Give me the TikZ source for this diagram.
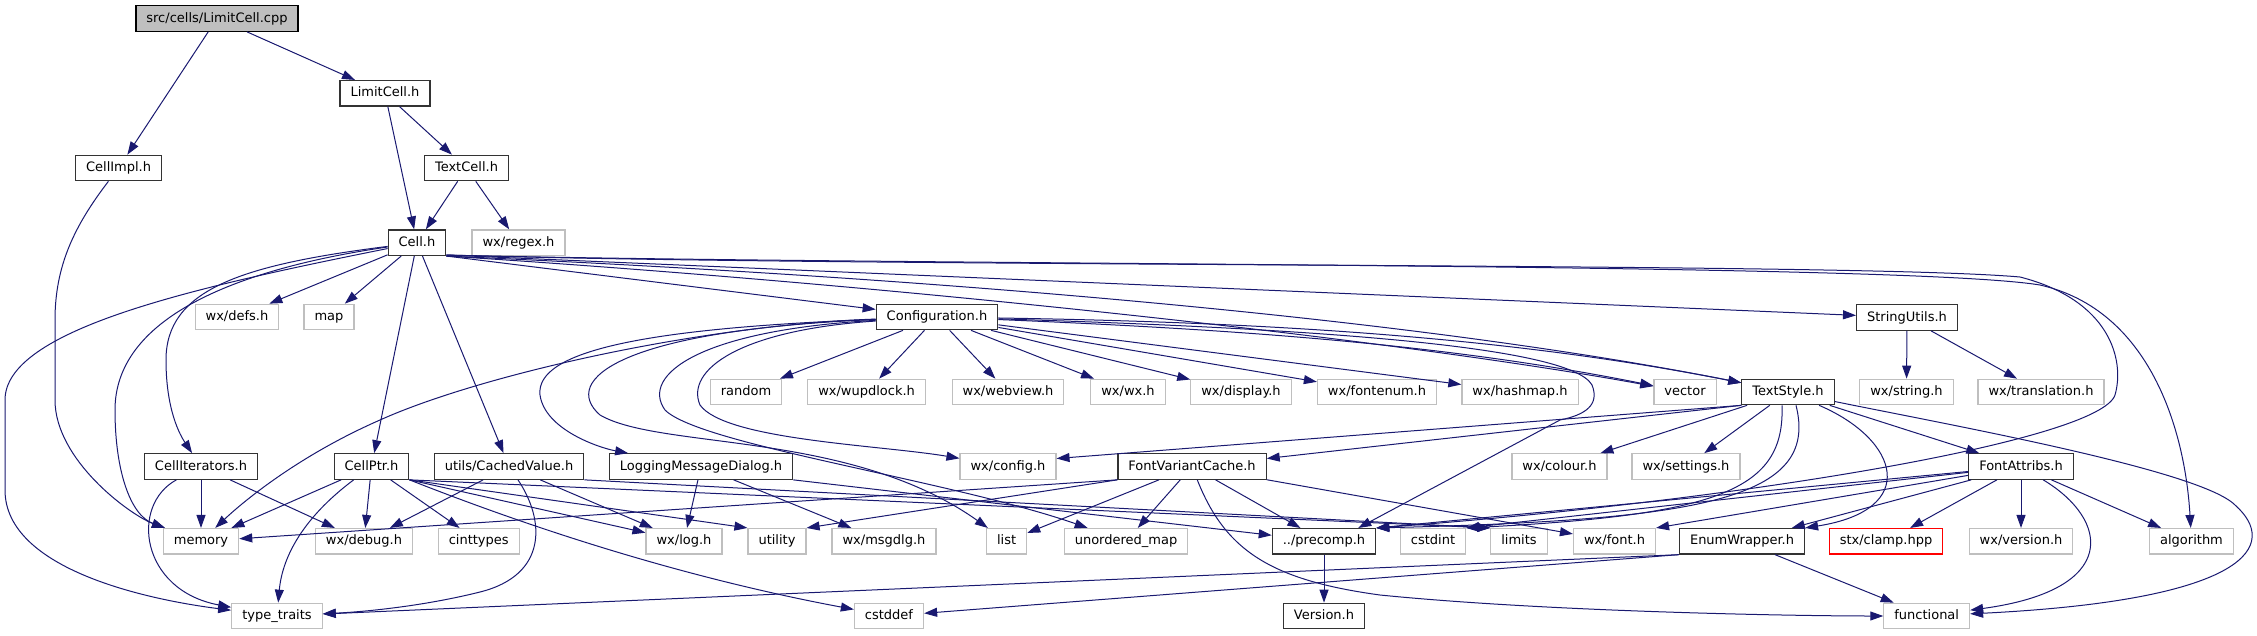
\documentclass[tikz,border=0pt]{standalone}
\usepackage{fontspec}
\setmainfont{DejaVu Sans}
\usetikzlibrary{arrows.meta}
\definecolor{edgecol}{HTML}{191970}
\definecolor{sysgray}{HTML}{BFBFBF}

\begin{document}
\begin{tikzpicture}[
  x=1pt, y=-1pt,
  hdr/.style={draw=black!80, line width=1.2pt, fill=white, minimum height=25.5pt, inner xsep=10.5pt, inner ysep=0pt,
    text height=9.6pt, text depth=2.6pt, font=\fontsize{13}{15}\selectfont},
  sys/.style={hdr, draw=sysgray},
  top/.style={hdr, draw=black, fill=sysgray},
  miss/.style={hdr, draw=red},
  inc/.style={-{Triangle[length=13pt, width=9pt]}, draw=edgecol, line width=1pt}
]
\useasboundingbox (0,0) rectangle (2257,635);

\node[top] (cpp) at (217,18.5) {src/cells/LimitCell.cpp};
\node[hdr] (limitcell) at (385,93.3) {LimitCell.h};
\node[hdr] (cellimpl) at (118.6,168) {CellImpl.h};
\node[hdr] (textcell) at (466.5,168) {TextCell.h};
\node[hdr] (cell) at (417,242.7) {Cell.h};
\node[sys] (regex) at (518.5,242.7) {wx/regex.h};
\node[sys] (defs) at (237,317) {wx/defs.h};
\node[sys] (map) at (329,317) {map};
\node[hdr] (config) at (937,317) {Configuration.h};
\node[hdr] (strutils) at (1907,317.5) {StringUtils.h};

\node[sys] (random) at (746,392) {random};
\node[sys] (wupdlock) at (866.6,392) {wx/wupdlock.h};
\node[sys] (webview) at (1008,392) {wx/webview.h};
\node[sys] (wxwx) at (1128,392) {wx/wx.h};
\node[sys] (display) at (1241,392) {wx/display.h};
\node[sys] (fontenum) at (1377,392) {wx/fontenum.h};
\node[sys] (hashmap) at (1520,392) {wx/hashmap.h};
\node[sys] (vector) at (1685,392) {vector};
\node[hdr] (textstyle) at (1788,392) {TextStyle.h};
\node[sys] (wxstring) at (1906.5,392) {wx/string.h};
\node[sys] (translation) at (2041,392) {wx/translation.h};

\node[hdr] (celliter) at (201,466.5) {CellIterators.h};
\node[hdr] (cellptr) at (371.5,466.5) {CellPtr.h};
\node[hdr] (cached) at (509,466.5) {utils/CachedValue.h};
\node[hdr] (logdlg) at (701,466.5) {LoggingMessageDialog.h};
\node[sys] (wxconfig) at (1008,466.5) {wx/config.h};
\node[hdr] (fontcache) at (1192,466.5) {FontVariantCache.h};
\node[sys] (colour) at (1559.5,466.5) {wx/colour.h};
\node[sys] (settings) at (1686,466.5) {wx/settings.h};
\node[hdr] (fontattr) at (2021,466.5) {FontAttribs.h};

\node[sys] (memory) at (201,541.3) {memory};
\node[sys] (debug) at (364,541.3) {wx/debug.h};
\node[sys] (cinttypes) at (478.7,541.3) {cinttypes};
\node[sys] (wxlog) at (684,541.3) {wx/log.h};
\node[sys] (utility) at (777,541.3) {utility};
\node[sys] (msgdlg) at (884,541.3) {wx/msgdlg.h};
\node[sys] (list) at (1006.6,541.3) {list};
\node[sys] (unordmap) at (1126,541.3) {unordered\_map};
\node[hdr] (precomp) at (1324,541.3) {../precomp.h};
\node[sys] (cstdint) at (1433,541.3) {cstdint};
\node[sys] (limits) at (1519,541.3) {limits};
\node[sys] (wxfont) at (1614.5,541.3) {wx/font.h};
\node[hdr] (enumwrap) at (1742,541.3) {EnumWrapper.h};
\node[miss] (clamp) at (1886,541.3) {stx/clamp.hpp};
\node[sys] (wxversion) at (2021,541.3) {wx/version.h};
\node[sys] (algorithm) at (2191.5,541.3) {algorithm};

\node[sys] (typetraits) at (277,616) {type\_traits};
\node[sys] (cstddef) at (889,616) {cstddef};
\node[hdr] (version) at (1324,616) {Version.h};
\node[sys] (functional) at (1926.7,616) {functional};

\draw[inc] (cpp) -- (cellimpl);
\draw[inc] (cpp) -- (limitcell);
\draw[inc] (limitcell) -- (cell);
\draw[inc] (limitcell) -- (textcell);
\draw[inc] (textcell) -- (cell);
\draw[inc] (textcell) -- (regex);
\draw[inc] (cellimpl) .. controls (75,225) and (55,265) .. (55,320) -- (55,400) .. controls (55,460) and (130,515) .. (memory);

\draw[inc] (cell) -- (defs);
\draw[inc] (cell) -- (map);
\draw[inc] (cell) -- (cellptr);
\draw[inc] (cell) -- (cached);
\draw[inc] (cell) .. controls (240,265) and (166,290) .. (166,360) .. controls (166,410) and (180,435) .. (celliter);
\draw[inc] (cell) .. controls (230,270) and (115,320) .. (115,410) .. controls (115,470) and (130,515) .. (memory);
\draw[inc] (cell) .. controls (190,288) and (5,330) .. (5,400) -- (5,490) .. controls (5,570) and (150,600) .. (typetraits);
\draw[inc] (cell.south east) -- (config);
\draw[inc] ([yshift=1pt]cell.south east) -- (strutils);
\draw[inc] ([yshift=1pt]cell.south east) .. controls (900,268) and (1850,262) .. (2020,277) .. controls (2110,300) and (2125,360) .. (2115,395) .. controls (2100,440) and (1750,500) .. (precomp.north east);
\draw[inc] ([yshift=1pt]cell.south east) .. controls (900,266) and (1900,262) .. (2040,285) .. controls (2150,310) and (2185,430) .. (algorithm);
\draw[inc] (cell.south east) .. controls (900,276) and (1400,315) .. (textstyle);
\draw[inc] (cell.south east) .. controls (900,285) and (1400,340) .. (vector);

\draw[inc] (config) -- (random);
\draw[inc] (config) -- (wupdlock);
\draw[inc] (config) -- (webview);
\draw[inc] (config) -- (wxwx);
\draw[inc] (config) -- (display);
\draw[inc] (config) -- (fontenum);
\draw[inc] (config) -- (hashmap);
\draw[inc] (config) .. controls (1250,330) and (1450,345) .. (vector);
\draw[inc] (config) .. controls (1250,322) and (1500,335) .. (textstyle);
\draw[inc] (config) .. controls (1300,328) and (1570,345) .. (1592,385) .. controls (1600,405) and (1585,415) .. (1560,420) -- ([xshift=-18pt]precomp.north east);
\draw[inc] (config) .. controls (740,330) and (685,370) .. (700,405) .. controls (725,440) and (880,445) .. (wxconfig);
\draw[inc] (config) .. controls (650,328) and (535,350) .. (540,395) .. controls (545,430) and (600,448) .. (logdlg);
\draw[inc] (config) .. controls (700,325) and (480,375) .. (380,420) .. controls (300,455) and (245,500) .. (memory);
\draw[inc] (config) .. controls (620,330) and (560,380) .. (600,415) .. controls (660,450) and (850,430) .. (list);
\draw[inc] (config) .. controls (700,330) and (640,375) .. (665,410) .. controls (700,445) and (950,480) .. (unordmap);

\draw[inc] (logdlg) -- (wxlog);
\draw[inc] (logdlg) -- (msgdlg);
\draw[inc] (logdlg.south east) -- (precomp);

\draw[inc] (cached) -- (debug);
\draw[inc] (cached) -- (wxlog);
\draw[inc] (cached) .. controls (545,520) and (548,575) .. (480,592) .. controls (420,607) and (360,612) .. (typetraits);
\draw[inc] (cached.south east) -- (limits.north west);

\draw[inc] (cellptr) -- (memory);
\draw[inc] (cellptr) -- (debug);
\draw[inc] (cellptr) -- (cinttypes);
\draw[inc] (cellptr) .. controls (300,520) and (282,560) .. (typetraits);
\draw[inc] (cellptr.south east) -- (wxlog);
\draw[inc] (cellptr.south east) -- (utility.north west);
\draw[inc] (cellptr.south east) .. controls (600,555) and (750,590) .. (cstddef);
\draw[inc] (cellptr.south east) -- (limits.north west);

\draw[inc] (celliter) -- (memory);
\draw[inc] (celliter) -- (debug);
\draw[inc] (celliter) .. controls (130,505) and (140,590) .. (typetraits);

\draw[inc] (fontcache.south west) -- (memory);
\draw[inc] (fontcache.south west) -- (utility.north east);
\draw[inc] (fontcache) -- (list);
\draw[inc] (fontcache) -- (unordmap);
\draw[inc] (fontcache) -- (precomp);
\draw[inc] (fontcache) -- (wxfont);
\draw[inc] (fontcache) .. controls (1225,550) and (1270,580) .. (1380,595) .. controls (1550,612) and (1800,616) .. (functional);

\draw[inc] (enumwrap.south west) -- (typetraits);
\draw[inc] (enumwrap.south west) -- (cstddef);
\draw[inc] (enumwrap) -- (functional);

\draw[inc] (precomp) -- (version);

\draw[inc] (textstyle.south west) -- ([yshift=8pt]fontcache.east);
\draw[inc] (textstyle.south west) -- ([yshift=8pt]wxconfig.east);
\draw[inc] (textstyle) -- (colour);
\draw[inc] (textstyle) -- (settings);
\draw[inc] (textstyle) -- (fontattr);
\draw[inc] ([xshift=-6pt]textstyle.south) .. controls (1785,490) and (1720,515) .. (cstdint.north east);
\draw[inc] ([xshift=8pt]textstyle.south) .. controls (1820,500) and (1700,520) .. (precomp.north east);
\draw[inc] (textstyle) .. controls (1900,440) and (1920,510) .. (enumwrap.north east);
\draw[inc] (textstyle) .. controls (1950,425) and (2200,470) .. (2235,505) .. controls (2280,545) and (2250,600) .. (functional);

\draw[inc] (fontattr) -- (precomp.north east);
\draw[inc] (fontattr) -- (cstdint.north east);
\draw[inc] (fontattr) -- (wxfont.north east);
\draw[inc] (fontattr) -- (enumwrap);
\draw[inc] (fontattr) -- (clamp);
\draw[inc] (fontattr) -- (wxversion);
\draw[inc] (fontattr) -- (algorithm);
\draw[inc] (fontattr) .. controls (2110,520) and (2120,590) .. (functional);

\draw[inc] (strutils) -- (wxstring);
\draw[inc] (strutils) -- (translation);
\end{tikzpicture}
\end{document}
